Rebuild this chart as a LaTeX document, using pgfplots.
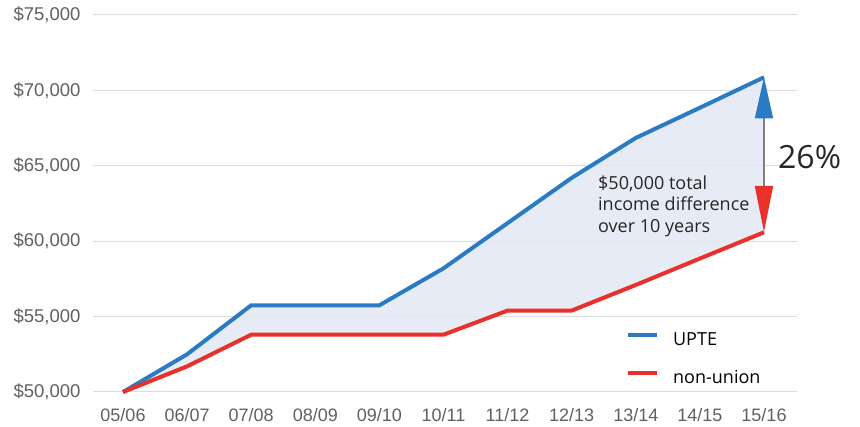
\documentclass[border=0pt]{standalone}
\usepackage{pgfplots}
\pgfplotsset{compat=1.18}
\usepgfplotslibrary{fillbetween}
\usetikzlibrary{arrows.meta}
\usepackage{fontspec}
\setmainfont{Liberation Sans}
\newfontfamily\annfont{Open Sans}
\definecolor{upte}{HTML}{2A7BC4}
\definecolor{nonu}{HTML}{E8312A}
\definecolor{fillc}{HTML}{E2E8F3}
\definecolor{tickc}{HTML}{606060}
\definecolor{gridc}{HTML}{DCDCDC}
\begin{document}
\begin{tikzpicture}
\begin{axis}[
  at={(93pt,34pt)}, anchor=south west,
  scale only axis, width=704pt, height=377pt,
  xmin=-0.468, xmax=10.515, ymin=50000, ymax=75000,
  scaled y ticks=false,
  axis line style={draw=none}, major tick length=0pt,
  xtick={0,...,10},
  xticklabels={05/06,06/07,07/08,08/09,09/10,10/11,11/12,12/13,13/14,14/15,15/16},
  ytick={50000,55000,60000,65000,70000,75000},
  yticklabels={{\$50,000},{\$55,000},{\$60,000},{\$65,000},{\$70,000},{\$75,000}},
  ymajorgrids, grid style={gridc, line width=1pt},
  tick label style={text=tickc},
  yticklabel style={font=\fontsize{18.5}{20}\selectfont, xshift=-9pt},
  xticklabel style={font=\fontsize{18}{20}\selectfont, yshift=-13pt},
  clip=false,
  legend style={draw=none, fill=none, inner sep=0pt,
    at={(axis description cs:0.757,0.158)}, anchor=north west,
    font=\annfont\fontsize{18}{21}\selectfont, row sep=25pt,
    nodes={inner sep=0pt, text height=13pt, text depth=0pt}},
  legend cell align=left,
  legend image code/.code={\draw[#1, line width=4pt] (0pt,4pt) -- (29pt,4pt);},
]
\addplot[name path=up, upte, line width=4pt] coordinates {
 (0,50000) (1,52500) (2,55750) (3,55750) (4,55750) (5,58200)
 (6,61200) (7,64200) (8,66850) (9,68850) (10,70870)};
\addlegendentry{\hspace*{14pt}UPTE}
\addplot[name path=nu, nonu, line width=4pt] coordinates {
 (0,50000) (1,51700) (2,53800) (3,53800) (4,53800) (5,53800)
 (6,55400) (7,55400) (8,57100) (9,58850) (10,60590)};
\addlegendentry{\hspace*{14pt}non-union}
\addplot[fillc, fill opacity=0.85, forget plot] fill between[of=up and nu];
\draw[gray, line width=1.5pt,
  {Triangle[width=18pt,length=41pt,color=upte]}-{Triangle[width=18pt,length=46pt,color=nonu]}]
  (axis cs:10,70870) -- (axis cs:10,60610);
\node[anchor=west, font=\annfont\fontsize{32}{34}\selectfont, text=black!85, inner sep=0pt]
  at (axis cs:10,65580) [xshift=14pt] {26\%};
\node[anchor=north west, align=left, font=\annfont\fontsize{18}{21.5}\selectfont, text=black!85, inner sep=0pt]
  at (axis cs:7.41,64370) {\$50,000 total\\income difference\\over 10 years};
\end{axis}
\pgfresetboundingbox
\useasboundingbox (0pt,0pt) rectangle (860pt,426pt);
\end{tikzpicture}
\end{document}
